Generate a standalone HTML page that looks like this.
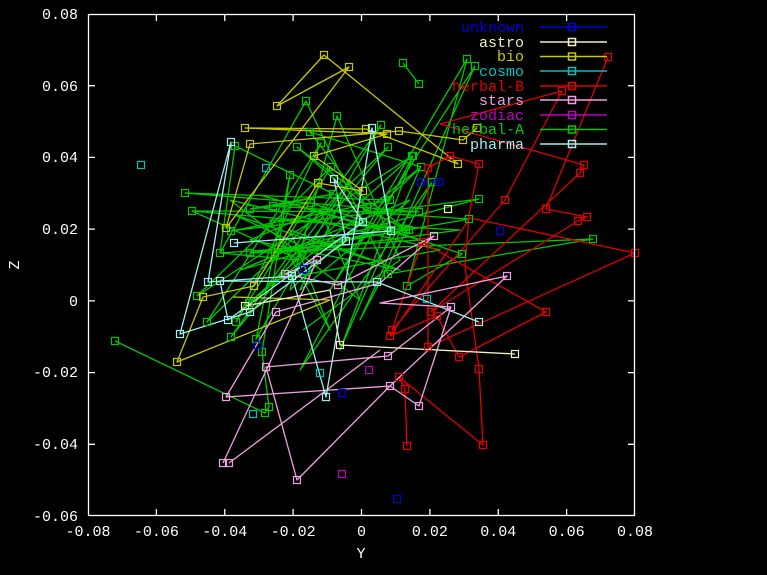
<!DOCTYPE html>
<html><head><meta charset="utf-8"><style>
html,body{margin:0;padding:0;background:#000;}
svg{display:block;}
text{font-family:"Liberation Mono","DejaVu Sans Mono",monospace;font-size:15px;}
</style></head><body>
<svg width="767" height="575" viewBox="0 0 767 575" xmlns="http://www.w3.org/2000/svg">
<defs>
<clipPath id="c"><rect x="88" y="14" width="547" height="502"/></clipPath>
</defs>
<rect width="767" height="575" fill="#000"/>
<g clip-path="url(#c)" fill="none" stroke-width="1.3" stroke-linejoin="round">
<!-- herbal-A green -->
<polyline stroke="#00c800" points="115,341 265,413 269,407 262,352 290,175 256,339 381,125 231,337 388,147 207,322 321,143 236,322 331,167 197,296 412,156 249,303 421,167 310,132 367,207 297,147 406,229 235,146 220,253 306,101 388,274 593,239 250,253 409,230 192,211 419,212 185,193 390,200 231,231 479,199 275,253 469,219 273,206 333,194 250,209 311,203 462,254 407,286 467,59 330,290 475,66 360,320 432,182 300,370 413,156 340,350 420,168 290,290 337,116 400,260 303,330"/>
<polyline stroke="#00c800" points="192,211 300,260 220,253 420,240 260,195 380,230 240,270 410,200 300,290 350,180 275,280 440,250 230,200 360,300 320,210 250,240 400,270 290,230 330,330 270,220 460,230 310,250 235,215 370,260"/>
<polyline stroke="#00c800" points="403,63 419,84"/>
<!-- bio yellow -->
<polyline stroke="#c8c800" points="477,128 463,140 399,131 250,144 226,228 349,67 277,106 324,55 458,164 366,129 245,128 387,134 314,156 363,191 318,183 254,286 203,297 177,362 330,300 233,297"/>
<!-- herbal-B red -->
<polyline stroke="#e00000" points="407,446 405,389 399,377 483,445 479,369 465,267 469,215 479,164 450,156 428,168 428,347 635,253 470,218 390,336 437,316 459,357 546,312 422,242 392,330 505,200 562,91 440,124 584,165 580,173 431,312 578,221 587,217 546,209 608,57"/>
<!-- stars pink -->
<polyline stroke="#f0a0e0" points="223,463 285,330 317,260 285,274 338,285 434,236 380,283 276,312 226,397 390,386 507,276 380,303 451,307 419,406 390,386 297,480 266,367 388,356 451,307"/>
<polyline stroke="#f0a0e0" points="229,463 380,350"/>
<!-- pharma light cyan -->
<polyline stroke="#a0f0f0" points="234,243 391,231 372,128 326,397 292,276 208,282 231,142 180,334 250,312 346,241 334,179 363,222 228,320 220,281 377,282 479,322"/>
<!-- astro beige -->
<polyline stroke="#f0f0c0" points="245,306 330,290 340,345 515,354"/>
<!-- unknown blue -->
<polyline stroke="#0000e0" points="421,182 439,182"/>
</g>
<g fill="none" stroke-width="1.2">
<!-- markers -->
<g stroke="#00c800">
<rect x="111.5" y="337.5" width="7" height="7"/><rect x="261.5" y="409.5" width="7" height="7"/><rect x="265.5" y="403.5" width="7" height="7"/><rect x="258.5" y="348.5" width="7" height="7"/><rect x="286.5" y="171.5" width="7" height="7"/><rect x="252.5" y="335.5" width="7" height="7"/><rect x="377.5" y="121.5" width="7" height="7"/><rect x="227.5" y="333.5" width="7" height="7"/><rect x="384.5" y="143.5" width="7" height="7"/><rect x="203.5" y="318.5" width="7" height="7"/><rect x="317.5" y="139.5" width="7" height="7"/><rect x="232.5" y="318.5" width="7" height="7"/><rect x="327.5" y="163.5" width="7" height="7"/><rect x="193.5" y="292.5" width="7" height="7"/><rect x="408.5" y="152.5" width="7" height="7"/><rect x="245.5" y="299.5" width="7" height="7"/><rect x="417.5" y="163.5" width="7" height="7"/><rect x="306.5" y="128.5" width="7" height="7"/><rect x="363.5" y="203.5" width="7" height="7"/><rect x="293.5" y="143.5" width="7" height="7"/><rect x="402.5" y="225.5" width="7" height="7"/><rect x="231.5" y="142.5" width="7" height="7"/><rect x="216.5" y="249.5" width="7" height="7"/><rect x="302.5" y="97.5" width="7" height="7"/><rect x="384.5" y="270.5" width="7" height="7"/><rect x="589.5" y="235.5" width="7" height="7"/><rect x="246.5" y="249.5" width="7" height="7"/><rect x="405.5" y="226.5" width="7" height="7"/><rect x="188.5" y="207.5" width="7" height="7"/><rect x="415.5" y="208.5" width="7" height="7"/><rect x="181.5" y="189.5" width="7" height="7"/><rect x="386.5" y="196.5" width="7" height="7"/><rect x="227.5" y="227.5" width="7" height="7"/><rect x="475.5" y="195.5" width="7" height="7"/><rect x="271.5" y="249.5" width="7" height="7"/><rect x="465.5" y="215.5" width="7" height="7"/><rect x="269.5" y="202.5" width="7" height="7"/><rect x="329.5" y="190.5" width="7" height="7"/><rect x="246.5" y="205.5" width="7" height="7"/><rect x="307.5" y="199.5" width="7" height="7"/><rect x="458.5" y="250.5" width="7" height="7"/><rect x="403.5" y="282.5" width="7" height="7"/><rect x="463.5" y="55.5" width="7" height="7"/><rect x="471.5" y="62.5" width="7" height="7"/><rect x="428.5" y="178.5" width="7" height="7"/><rect x="409.5" y="152.5" width="7" height="7"/><rect x="333.5" y="112.5" width="7" height="7"/><rect x="399.5" y="59.5" width="7" height="7"/><rect x="415.5" y="80.5" width="7" height="7"/>
</g>
<g stroke="#c8c800">
<rect x="473.5" y="124.5" width="7" height="7"/><rect x="459.5" y="136.5" width="7" height="7"/><rect x="395.5" y="127.5" width="7" height="7"/><rect x="246.5" y="140.5" width="7" height="7"/><rect x="222.5" y="224.5" width="7" height="7"/><rect x="345.5" y="63.5" width="7" height="7"/><rect x="273.5" y="102.5" width="7" height="7"/><rect x="320.5" y="51.5" width="7" height="7"/><rect x="454.5" y="160.5" width="7" height="7"/><rect x="362.5" y="125.5" width="7" height="7"/><rect x="241.5" y="124.5" width="7" height="7"/><rect x="383.5" y="130.5" width="7" height="7"/><rect x="310.5" y="152.5" width="7" height="7"/><rect x="359.5" y="187.5" width="7" height="7"/><rect x="314.5" y="179.5" width="7" height="7"/><rect x="250.5" y="282.5" width="7" height="7"/><rect x="199.5" y="293.5" width="7" height="7"/><rect x="173.5" y="358.5" width="7" height="7"/>
</g>
<g stroke="#e00000">
<rect x="403.5" y="442.5" width="7" height="7"/><rect x="401.5" y="385.5" width="7" height="7"/><rect x="395.5" y="373.5" width="7" height="7"/><rect x="479.5" y="441.5" width="7" height="7"/><rect x="475.5" y="365.5" width="7" height="7"/><rect x="475.5" y="160.5" width="7" height="7"/><rect x="446.5" y="152.5" width="7" height="7"/><rect x="424.5" y="164.5" width="7" height="7"/><rect x="424.5" y="343.5" width="7" height="7"/><rect x="631.5" y="249.5" width="7" height="7"/><rect x="386.5" y="332.5" width="7" height="7"/><rect x="433.5" y="312.5" width="7" height="7"/><rect x="455.5" y="353.5" width="7" height="7"/><rect x="542.5" y="308.5" width="7" height="7"/><rect x="418.5" y="238.5" width="7" height="7"/><rect x="388.5" y="326.5" width="7" height="7"/><rect x="501.5" y="196.5" width="7" height="7"/><rect x="558.5" y="87.5" width="7" height="7"/><rect x="580.5" y="161.5" width="7" height="7"/><rect x="576.5" y="169.5" width="7" height="7"/><rect x="427.5" y="308.5" width="7" height="7"/><rect x="574.5" y="217.5" width="7" height="7"/><rect x="583.5" y="213.5" width="7" height="7"/><rect x="542.5" y="205.5" width="7" height="7"/><rect x="604.5" y="53.5" width="7" height="7"/>
</g>
<g stroke="#f0a0e0">
<rect x="219.5" y="459.5" width="7" height="7"/><rect x="225.5" y="459.5" width="7" height="7"/><rect x="313.5" y="256.5" width="7" height="7"/><rect x="281.5" y="270.5" width="7" height="7"/><rect x="334.5" y="281.5" width="7" height="7"/><rect x="430.5" y="232.5" width="7" height="7"/><rect x="272.5" y="308.5" width="7" height="7"/><rect x="222.5" y="393.5" width="7" height="7"/><rect x="386.5" y="382.5" width="7" height="7"/><rect x="503.5" y="272.5" width="7" height="7"/><rect x="447.5" y="303.5" width="7" height="7"/><rect x="415.5" y="402.5" width="7" height="7"/><rect x="293.5" y="476.5" width="7" height="7"/><rect x="262.5" y="363.5" width="7" height="7"/><rect x="384.5" y="352.5" width="7" height="7"/>
</g>
<g stroke="#a0f0f0">
<rect x="230.5" y="239.5" width="7" height="7"/><rect x="387.5" y="227.5" width="7" height="7"/><rect x="368.5" y="124.5" width="7" height="7"/><rect x="322.5" y="393.5" width="7" height="7"/><rect x="288.5" y="272.5" width="7" height="7"/><rect x="204.5" y="278.5" width="7" height="7"/><rect x="227.5" y="138.5" width="7" height="7"/><rect x="176.5" y="330.5" width="7" height="7"/><rect x="246.5" y="308.5" width="7" height="7"/><rect x="342.5" y="237.5" width="7" height="7"/><rect x="330.5" y="175.5" width="7" height="7"/><rect x="359.5" y="218.5" width="7" height="7"/><rect x="224.5" y="316.5" width="7" height="7"/><rect x="216.5" y="277.5" width="7" height="7"/><rect x="373.5" y="278.5" width="7" height="7"/><rect x="475.5" y="318.5" width="7" height="7"/>
</g>
<g stroke="#f0f0c0">
<rect x="241.5" y="302.5" width="7" height="7"/><rect x="336.5" y="341.5" width="7" height="7"/><rect x="511.5" y="350.5" width="7" height="7"/><rect x="444.5" y="205.5" width="7" height="7"/>
</g>
<g stroke="#00c0c0">
<rect x="137.5" y="161.5" width="7" height="7"/><rect x="262.5" y="164.5" width="7" height="7"/><rect x="249.5" y="410.5" width="7" height="7"/><rect x="316.5" y="369.5" width="7" height="7"/><rect x="423.5" y="295.5" width="7" height="7"/>
</g>
<g stroke="#0000e0">
<rect x="417.5" y="178.5" width="7" height="7"/><rect x="435.5" y="178.5" width="7" height="7"/><rect x="496.5" y="227.5" width="7" height="7"/><rect x="393.5" y="495.5" width="7" height="7"/><rect x="300.5" y="265.5" width="7" height="7"/><rect x="254.5" y="341.5" width="7" height="7"/><rect x="338.5" y="389.5" width="7" height="7"/>
</g>
<g stroke="#c000c0">
<rect x="338.5" y="470.5" width="7" height="7"/><rect x="365.5" y="366.5" width="7" height="7"/>
</g>
</g>

<!-- axes frame -->
<g stroke="#ffffff" stroke-width="1.3" fill="none">
<rect x="88.5" y="14.5" width="546" height="501"/>
<path d="M88,85.7h7M88,157.4h7M88,229.1h7M88,300.9h7M88,372.6h7M88,444.3h7
M635,85.7h-7M635,157.4h-7M635,229.1h-7M635,300.9h-7M635,372.6h-7M635,444.3h-7
M156.4,516v-7M224.75,516v-7M293.1,516v-7M361.5,516v-7M429.9,516v-7M498.25,516v-7M566.6,516v-7
M156.4,14v7M224.75,14v7M293.1,14v7M361.5,14v7M429.9,14v7M498.25,14v7M566.6,14v7"/>
</g>
<g fill="#ffffff" text-anchor="end">
<text x="78" y="19">0.08</text>
<text x="78" y="91">0.06</text>
<text x="78" y="162">0.04</text>
<text x="78" y="234">0.02</text>
<text x="78" y="306">0</text>
<text x="78" y="377">-0.02</text>
<text x="78" y="449">-0.04</text>
<text x="78" y="521">-0.06</text>
</g>
<g fill="#ffffff" text-anchor="middle">
<text x="88" y="536">-0.08</text>
<text x="156.4" y="536">-0.06</text>
<text x="224.75" y="536">-0.04</text>
<text x="293.1" y="536">-0.02</text>
<text x="361.5" y="536">0</text>
<text x="429.9" y="536">0.02</text>
<text x="498.25" y="536">0.04</text>
<text x="566.6" y="536">0.06</text>
<text x="635" y="536">0.08</text>
<text x="361" y="558">Y</text>
<text x="0" y="0" transform="translate(19,265) rotate(-90)">Z</text>
</g>

<!-- legend -->
<g text-anchor="end">
<text x="524" y="32" fill="#0000e0">unknown</text>
<text x="524" y="47" fill="#f0f0c0">astro</text>
<text x="524" y="61" fill="#c8c800">bio</text>
<text x="524" y="76" fill="#00c0c0">cosmo</text>
<text x="524" y="91" fill="#e00000">herbal-B</text>
<text x="524" y="105" fill="#f0a0e0">stars</text>
<text x="524" y="120" fill="#c000c0">zodiac</text>
<text x="524" y="134" fill="#00c800">herbal-A</text>
<text x="524" y="149" fill="#a0f0f0">pharma</text>
</g>
<g stroke-width="1.5" fill="none">
<path stroke="#0000e0" d="M540,27H607"/><rect stroke="#0000e0" x="568.5" y="23.5" width="7" height="7"/>
<path stroke="#f0f0c0" d="M540,42H607"/><rect stroke="#f0f0c0" x="568.5" y="38.5" width="7" height="7"/>
<path stroke="#c8c800" d="M540,56.5H607"/><rect stroke="#c8c800" x="568.5" y="53" width="7" height="7"/>
<path stroke="#00c0c0" d="M540,71H607"/><rect stroke="#00c0c0" x="568.5" y="67.5" width="7" height="7"/>
<path stroke="#e00000" d="M540,86H607"/><rect stroke="#e00000" x="568.5" y="82.5" width="7" height="7"/>
<path stroke="#f0a0e0" d="M540,100H607"/><rect stroke="#f0a0e0" x="568.5" y="96.5" width="7" height="7"/>
<path stroke="#c000c0" d="M540,115H607"/><rect stroke="#c000c0" x="568.5" y="111.5" width="7" height="7"/>
<path stroke="#00c800" d="M540,129.5H607"/><rect stroke="#00c800" x="568.5" y="126" width="7" height="7"/>
<path stroke="#a0f0f0" d="M540,144H607"/><rect stroke="#a0f0f0" x="568.5" y="140.5" width="7" height="7"/>
</g>
</svg>
</body></html>
